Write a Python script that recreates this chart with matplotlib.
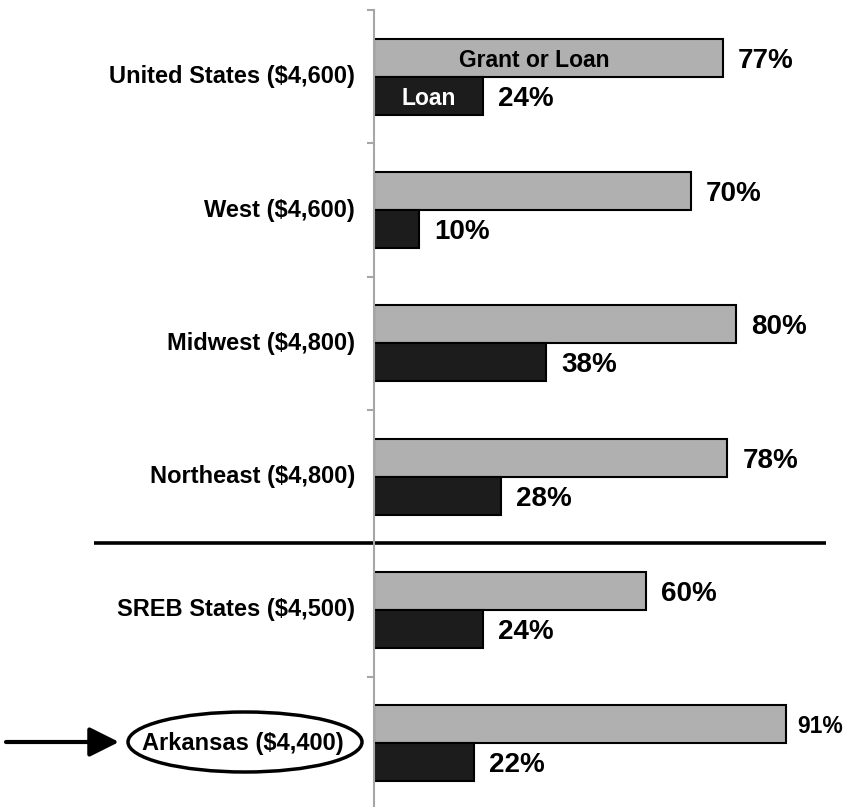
import numpy as np
import matplotlib.pyplot as plt
from matplotlib.patches import Ellipse, FancyArrowPatch
from matplotlib import transforms

# Datos: porcentaje con ayuda (subvención o préstamo) y con préstamo
regions = ['United States ($4,600)', 'West ($4,600)', 'Midwest ($4,800)',
           'Northeast ($4,800)', 'SREB States ($4,500)', 'Arkansas ($4,400)']
grant_or_loan = [77, 70, 80, 78, 60, 91]
loan = [24, 10, 38, 28, 24, 22]

fam = ['Liberation Sans', 'DejaVu Sans']

fig = plt.figure(figsize=(8.48, 8.07), dpi=100)
ax = fig.add_axes([374 / 848, -0.0037, 453 / 848, 0.9913])

y = np.arange(len(regions))
h = 0.285
ax.barh(y - h / 2, grant_or_loan, height=h, color='#b0b0b0', edgecolor='black', linewidth=1.5)
ax.barh(y + h / 2, loan, height=h, color='#1c1c1c', edgecolor='black', linewidth=1.5)

ax.set_xlim(0, 100)
ax.set_ylim(len(regions) - 0.5, -0.5)

# eje
for s in ['top', 'right', 'bottom']:
    ax.spines[s].set_visible(False)
ax.spines['left'].set_color('#a6a6a6')
ax.spines['left'].set_linewidth(1.5)
ax.set_xticks([])
ax.set_yticks(np.arange(len(regions) + 1) - 0.5)
ax.set_yticklabels([])
ax.tick_params(axis='y', length=5, width=1.5, color='#a6a6a6', direction='out')

# etiquetas de categoría
ytr = ax.get_yaxis_transform()
for i, name in enumerate(regions):
    xoff = -0.068 if name.startswith('Arkansas') else -0.042
    ax.text(xoff, i, name, transform=ytr, ha='right', va='center',
            fontsize=17, fontweight='bold', family=fam)

# etiquetas de valores
for i, (g, l) in enumerate(zip(grant_or_loan, loan)):
    if regions[i].startswith('Arkansas'):
        ax.text(g + 2.4, i - h / 2, f'{g}%', ha='left', va='center_baseline',
                fontsize=16.5, fontweight='bold', family=fam, clip_on=False)
    else:
        ax.text(g + 3.3, i - h / 2, f'{g}%', ha='left', va='center_baseline',
                fontsize=20, fontweight='bold', family=fam, clip_on=False)
    ax.text(l + 3.3, i + h / 2, f'{l}%', ha='left', va='center_baseline',
            fontsize=20, fontweight='bold', family=fam)

# leyenda dentro de las barras
ax.text(grant_or_loan[0] * 0.46, 0 - h / 2, 'Grant or Loan', ha='center', va='center_baseline',
        fontsize=16.5, fontweight='bold', family=fam, color='black')
ax.text(loan[0] / 2, 0 + h / 2, 'Loan', ha='center', va='center_baseline',
        fontsize=16.5, fontweight='bold', family=fam, color='white')

# línea separadora
sep = transforms.blended_transform_factory(fig.transFigure, ax.transData)
ax.plot([94 / 848, 826 / 848], [3.5, 3.5], color='black', lw=2.6,
        transform=sep, clip_on=False, solid_capstyle='butt')

# óvalo y flecha en Arkansas
fig.add_artist(Ellipse((245 / 848, 1 - 742 / 807), 234 / 848, 60 / 807,
                       transform=fig.transFigure, fill=False, edgecolor='black', lw=2.5))
fig.add_artist(FancyArrowPatch(
    (6 / 848, 1 - 742 / 807), (119 / 848, 1 - 742 / 807),
    transform=fig.transFigure, arrowstyle='-|>,head_length=0.6,head_width=0.3',
    mutation_scale=30, lw=3, color='black', shrinkA=0, shrinkB=0))

plt.savefig('out.png', dpi=100)
